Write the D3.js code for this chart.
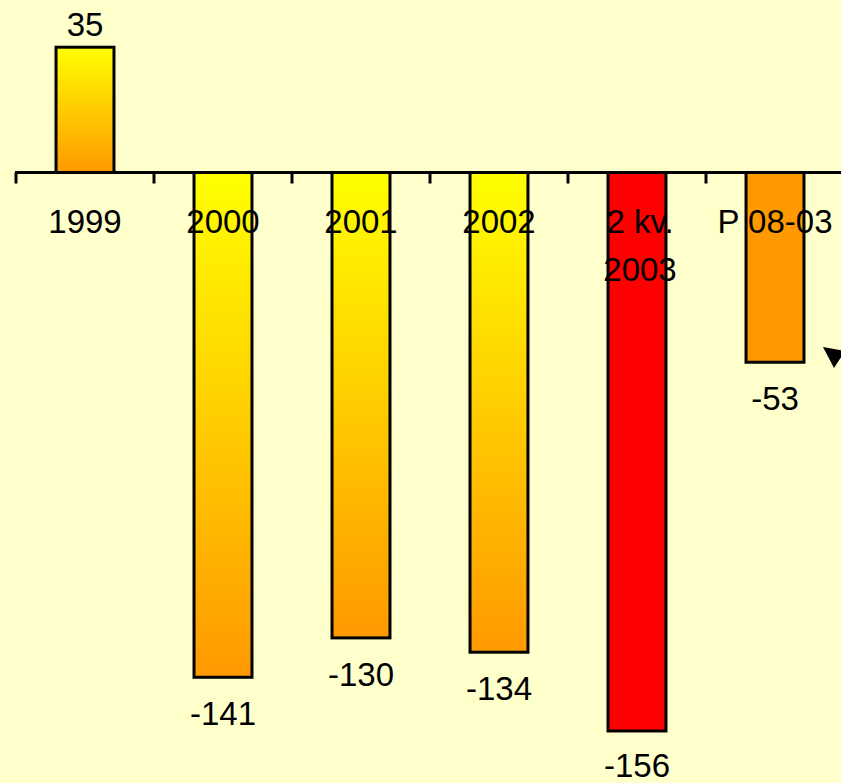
<!DOCTYPE html>
<html>
<head>
<meta charset="utf-8">
<script src="https://cdn.jsdelivr.net/npm/d3@7"></script>
<style>
  body { margin: 0; background: #FFFFCC; }
  svg { display: block; }
  text { font-family: "Liberation Sans", Arial, sans-serif; font-size: 33px; fill: #000; }
</style>
</head>
<body>
<div class="chart"></div>
<script>
// data
var categories = ["1999", "2000", "2001", "2002", "2 kv.|2003", "P 08-03"];
var values = [35, -141, -130, -134, -156, -53];
// fill per bar: gradient, or a flat colour
var barFills = ["url(#grad)", "url(#grad)", "url(#grad)", "url(#grad)", "#FF0000", "#FF9900"];

var svgWidth = 841;
var svgHeight = 783;

var svg = d3.select(".chart")
  .append("svg")
  .attr("width", svgWidth)
  .attr("height", svgHeight);

var defs = svg.append("defs");
var grad = defs.append("linearGradient")
  .attr("id", "grad")
  .attr("x1", 0).attr("y1", 0)
  .attr("x2", 0).attr("y2", 1);
grad.append("stop").attr("offset", "0%").attr("stop-color", "#FFFF00");
grad.append("stop").attr("offset", "100%").attr("stop-color", "#FF9900");

var step = 138;
var x = d3.scaleBand()
  .domain(categories)
  .range([16, 16 + step * categories.length])
  .paddingInner(0.58)
  .paddingOuter(0.29);

var zeroY = 172.5;
var k = 3.58;
var y = d3.scaleLinear()
  .domain([-160, 40])
  .range([zeroY + 160 * k, zeroY - 40 * k]);

var rows = categories.map(function(c, i) {
  return { cat: c, value: values[i], fill: barFills[i] };
});

// bars
svg.selectAll("rect.bar")
  .data(rows)
  .enter()
  .append("rect")
  .attr("class", "bar")
  .attr("x", d => x(d.cat))
  .attr("width", x.bandwidth())
  .attr("y", d => Math.min(y(d.value), y(0)))
  .attr("height", d => Math.abs(y(d.value) - y(0)))
  .attr("fill", d => d.fill)
  .attr("stroke", "#000")
  .attr("stroke-width", 3);

// axis line with ticks on category boundaries
var axis = svg.append("g");
axis.append("line")
  .attr("x1", 15).attr("x2", svgWidth + 5)
  .attr("y1", y(0)).attr("y2", y(0))
  .attr("stroke", "#000")
  .attr("stroke-width", 3);

var tickXs = categories.map(c => x(c) + x.bandwidth() / 2 - x.step() / 2);
tickXs.push(x(categories[categories.length - 1]) + x.bandwidth() / 2 + x.step() / 2);
axis.selectAll("line.tick")
  .data(tickXs)
  .enter()
  .append("line")
  .attr("class", "tick")
  .attr("x1", d => d).attr("x2", d => d)
  .attr("y1", y(0)).attr("y2", y(0) + 11)
  .attr("stroke", "#000")
  .attr("stroke-width", 3);

// category labels
var catLabels = svg.selectAll("text.cat")
  .data(rows)
  .enter()
  .append("text")
  .attr("class", "cat")
  .attr("text-anchor", "middle")
  .attr("y", y(0) + 60);
catLabels.each(function(d) {
  var lines = d.cat.split("|");
  var t = d3.select(this);
  lines.forEach(function(l, i) {
    t.append("tspan")
      .attr("x", x(d.cat) + x.bandwidth() / 2 + (lines.length > 1 ? 3 : 0))
      .attr("dy", i === 0 ? 0 : 48)
      .text(l);
  });
});

// value labels
svg.selectAll("text.val")
  .data(rows)
  .enter()
  .append("text")
  .attr("class", "val")
  .attr("text-anchor", "middle")
  .attr("x", d => x(d.cat) + x.bandwidth() / 2)
  .attr("y", d => d.value >= 0 ? y(d.value) - 11 : Math.min(y(d.value) + 48, svgHeight - 6))
  .text(d => d.value);

// arrowhead pointing at the last bar (cut off at right edge)
svg.append("path")
  .attr("d", "M823,347 L845,351 L834,368 Z")
  .attr("fill", "#000");
</script>
</body>
</html>
